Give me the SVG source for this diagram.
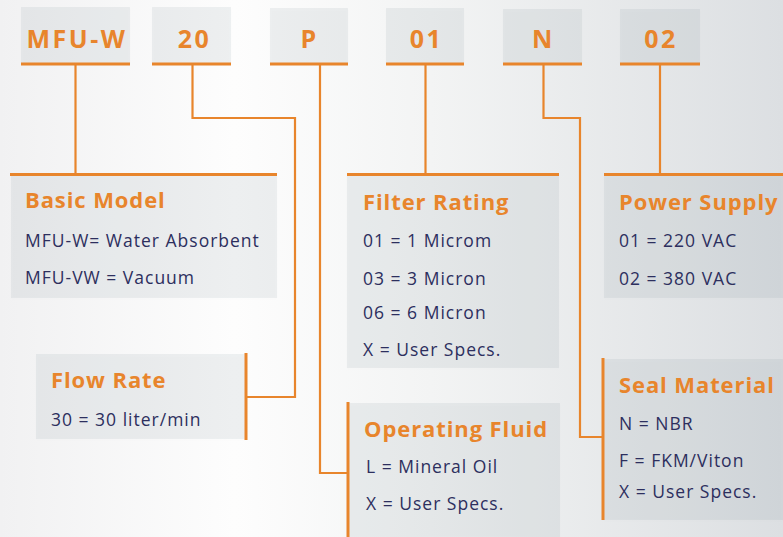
<svg xmlns="http://www.w3.org/2000/svg" width="783" height="537" viewBox="0 0 783 537">
<defs>
<linearGradient id="bg" x1="0" y1="0" x2="1" y2="0">
<stop offset="0" stop-color="#f1f1f2"/>
<stop offset="0.3" stop-color="#fdfdfd"/>
<stop offset="0.55" stop-color="#f3f4f4"/>
<stop offset="1" stop-color="#dcdfe2"/>
</linearGradient>
<filter id="sh" x="-10%" y="-10%" width="120%" height="130%">
<feDropShadow dx="0" dy="1" stdDeviation="1.5" flood-color="#000" flood-opacity="0.06"/>
</filter>
</defs>
<style>
.box{fill:#7a8590;fill-opacity:0.11;filter:url(#sh)}
.bar{stroke:#e8852c;stroke-width:3;fill:none}
.ln{stroke:#e8852c;stroke-width:2.2;fill:none}
.code{font-family:"Open Sans",sans-serif;font-weight:700;font-size:25px;letter-spacing:2.5px;fill:#e8852c;text-anchor:middle}
.ttl{font-family:"Open Sans",sans-serif;font-weight:700;font-size:22px;letter-spacing:0.9px;fill:#e8852c}
.txt{font-family:"Open Sans",sans-serif;font-size:17.5px;letter-spacing:1px;fill:#2d2f5e}
</style>
<rect width="783" height="537" fill="url(#bg)"/>

<g id="code-mfuw"><rect class="box" x="21" y="7" width="109" height="57"/><line class="bar" x1="21" y1="64" x2="130" y2="64"/><text class="code" x="77" y="48">MFU-W</text></g>
<g id="code-20"><rect class="box" x="152" y="7" width="79" height="57"/><line class="bar" x1="152" y1="64" x2="231" y2="64"/><text class="code" x="194.5" y="48">20</text></g>
<g id="code-p"><rect class="box" x="270" y="8" width="78" height="56"/><line class="bar" x1="270" y1="64" x2="348" y2="64"/><text class="code" x="309.5" y="48">P</text></g>
<g id="code-01"><rect class="box" x="386" y="8" width="78" height="56"/><line class="bar" x1="386" y1="64" x2="464" y2="64"/><text class="code" x="426.5" y="48">01</text></g>
<g id="code-n"><rect class="box" x="503" y="9" width="79" height="55"/><line class="bar" x1="503" y1="64" x2="582" y2="64"/><text class="code" x="543.5" y="48">N</text></g>
<g id="code-02"><rect class="box" x="620" y="9" width="80" height="55"/><line class="bar" x1="620" y1="64" x2="700" y2="64"/><text class="code" x="661" y="48">02</text></g>

<g id="connectors">
<polyline class="ln" points="75.5,65 75.5,174"/>
<polyline class="ln" points="192.5,65 192.5,118 295,118 295,397 246,397"/>
<polyline class="ln" points="320,65 320,473 348,473"/>
<polyline class="ln" points="425.5,65 425.5,174"/>
<polyline class="ln" points="543.5,65 543.5,118 580,118 580,437 603,437"/>
<polyline class="ln" points="660,65 660,174"/>
</g>

<g id="basic-model">
<rect class="box" x="11" y="175" width="266" height="123"/>
<line class="bar" x1="10" y1="174.5" x2="277" y2="174.5"/>
<text class="ttl" x="25" y="208">Basic Model</text>
<text class="txt" x="25" y="247">MFU-W= Water Absorbent</text>
<text class="txt" x="25" y="284">MFU-VW = Vacuum</text>
</g>

<g id="flow-rate">
<rect class="box" x="36" y="354" width="210" height="85"/>
<line class="bar" x1="246" y1="353" x2="246" y2="440"/>
<text class="ttl" x="51" y="388">Flow Rate</text>
<text class="txt" x="51" y="426">30 = 30 liter/min</text>
</g>

<g id="filter-rating">
<rect class="box" x="347" y="175" width="212" height="193"/>
<line class="bar" x1="347" y1="174.5" x2="559" y2="174.5"/>
<text class="ttl" x="363" y="210">Filter Rating</text>
<text class="txt" x="363" y="247">01 = 1 Microm</text>
<text class="txt" x="363" y="285">03 = 3 Micron</text>
<text class="txt" x="363" y="319">06 = 6 Micron</text>
<text class="txt" x="363" y="356">X = User Specs.</text>
</g>

<g id="operating-fluid">
<rect class="box" x="348" y="403" width="212" height="134"/>
<line class="bar" x1="348" y1="402" x2="348" y2="537"/>
<text class="ttl" x="364" y="437">Operating Fluid</text>
<text class="txt" x="366" y="473">L = Mineral Oil</text>
<text class="txt" x="366" y="510">X = User Specs.</text>
</g>

<g id="power-supply">
<rect class="box" x="604" y="175" width="179" height="123"/>
<line class="bar" x1="604" y1="174.5" x2="783" y2="174.5"/>
<text class="ttl" x="619" y="210">Power Supply</text>
<text class="txt" x="619" y="247">01 = 220 VAC</text>
<text class="txt" x="619" y="285">02 = 380 VAC</text>
</g>

<g id="seal-material">
<rect class="box" x="603" y="359" width="180" height="161"/>
<line class="bar" x1="603" y1="358" x2="603" y2="520"/>
<text class="ttl" x="619" y="393">Seal Material</text>
<text class="txt" x="619" y="430">N = NBR</text>
<text class="txt" x="619" y="467">F = FKM/Viton</text>
<text class="txt" x="619" y="498">X = User Specs.</text>
</g>
</svg>
